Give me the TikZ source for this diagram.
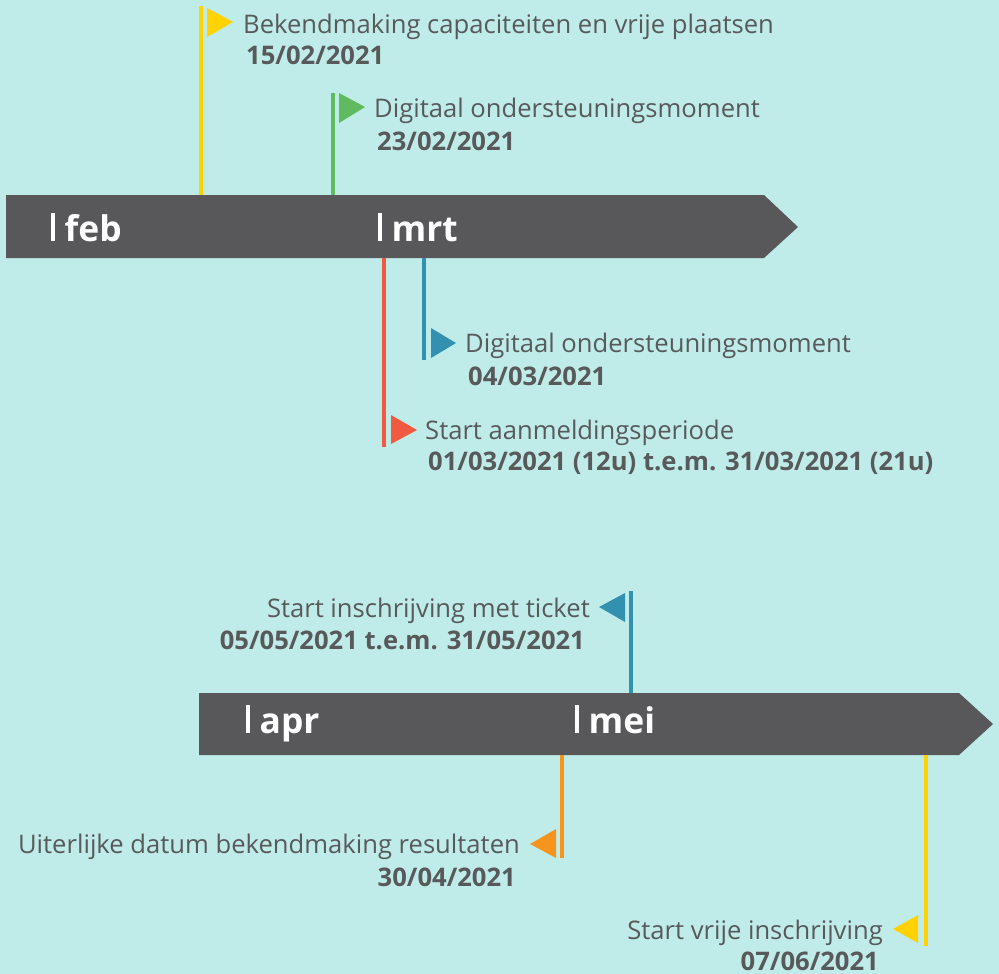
\documentclass[tikz,border=0pt]{standalone}
\usepackage{fontspec}
\setmainfont{Open Sans}
\usepackage{tikz}
\usetikzlibrary{positioning}

\definecolor{bg}{HTML}{BFECE8}
\definecolor{bargray}{HTML}{58585A}
\definecolor{txtgray}{HTML}{58595B}
\definecolor{flagyellow}{HTML}{FFD200}
\definecolor{flaggreen}{HTML}{60BA60}
\definecolor{flagred}{HTML}{F15A40}
\definecolor{flagblue}{HTML}{3290B0}
\definecolor{flagorange}{HTML}{F7941D}

\newcommand{\monthbar}{\rule{3.5bp}{28bp}\hspace{10bp}}

\tikzset{
  pole/.style={line width=3.5bp},
  eventtext/.style={text=txtgray, inner sep=0pt, font=\fontsize{25.7}{30}\selectfont},
  datetext/.style={text=txtgray, inner sep=0pt, font=\fontsize{25.7}{30}\selectfont\bfseries},
  monthtext/.style={text=white, inner sep=0pt, anchor=base west, font=\fontsize{35.5}{40}\selectfont\bfseries}
}

\begin{document}
\begin{tikzpicture}[x=1bp,y=-1bp]

        \fill[bg] (0,0) rectangle (999,974);
        \useasboundingbox (0,0) rectangle (999,974);

        % eerste balk
        \fill[bargray] (6,195) -- (764,195) -- (798,227) -- (764,258) -- (6,258) -- cycle;
        \node[monthtext] (feb) at(51,241) {\monthbar feb};
        \node[monthtext] (mrt) at(378,241) {\monthbar mrt};

        % 15/02
        \coordinate (bekendB) at(201,195);
        \coordinate (bekendT) at(201,6);
        \draw[pole, flagyellow] (bekendB) -- (bekendT);
        \fill[flagyellow] (207,8) -- (233,22) -- (207,37) -- cycle;
        \node[eventtext, anchor=base west] (bekend) at(243,33) {Bekendmaking capaciteiten en vrije plaatsen};
        \node[datetext, anchor=base west] (bekenddate) at(246,64) {15/02/2021};

        % 23/02
        \coordinate (digi1B) at(333,195);
        \coordinate (digi1T) at(333,93);
        \draw[pole, flaggreen] (digi1B) -- (digi1T);
        \fill[flaggreen] (339,93) -- (365,107) -- (339,123) -- cycle;
        \node[eventtext, anchor=base west] (digi1) at(374,117) {Digitaal ondersteuningsmoment};
        \node[datetext, anchor=base west] (digi1date) at(377,150) {23/02/2021};

        % 01/03
        \coordinate (aanmT) at(384,258);
        \coordinate (aanmB) at(384,447);
        \draw[pole, flagred] (aanmT) -- (aanmB);
        \fill[flagred] (391,415) -- (417,430) -- (391,444) -- cycle;
        \node[eventtext, anchor=base west] (aanm) at(425,439) {Start aanmeldingsperiode};
        \node[datetext, anchor=base west] (aanmdate) at(428,470) {01/03/2021 (12u) t.e.m. 31/03/2021 (21u)};

        % 04/03
        \coordinate (digi2T) at(424,258);
        \coordinate (digi2B) at(424,360);
        \draw[pole, flagblue] (digi2T) -- (digi2B);
        \fill[flagblue] (431,328) -- (456,343) -- (431,358) -- cycle;
        \node[eventtext, anchor=base west] (digi2) at(465,352) {Digitaal ondersteuningsmoment};
        \node[datetext, anchor=base west] (digi2date) at(468,385) {04/03/2021};

        % tweede balk
        \fill[bargray] (199,693) -- (959,693) -- (993,724) -- (959,755) -- (199,755) -- cycle;
        \node[monthtext] (apr) at(246,733) {\monthbar apr};
        \node[monthtext] (mei) at(575,733) {\monthbar mei};

        % 05/05
        \coordinate (ticketB) at(631,693);
        \coordinate (ticketT) at(631,591);
        \draw[pole, flagblue] (ticketB) -- (ticketT);
        \fill[flagblue] (625,593) -- (599,607) -- (625,622) -- cycle;
        \node[eventtext, anchor=base east] (ticket) at(590,617) {Start inschrijving met ticket};
        \node[datetext, anchor=base east] (ticketdate) at(585,649) {05/05/2021 t.e.m. 31/05/2021};

        % 30/04
        \coordinate (resT) at(562,755);
        \coordinate (resB) at(562,858);
        \draw[pole, flagorange] (resT) -- (resB);
        \fill[flagorange] (556,829) -- (530,844) -- (556,858) -- cycle;
        \node[eventtext, anchor=base east] (res) at(520,853) {Uiterlijke datum bekendmaking resultaten};
        \node[datetext, anchor=base east] (resdate) at(516,886) {30/04/2021};

        % 07/06
        \coordinate (vrijT) at(926,755);
        \coordinate (vrijB) at(926,946);
        \draw[pole, flagyellow] (vrijT) -- (vrijB);
        \fill[flagyellow] (918,915) -- (893,929) -- (918,943) -- cycle;
        \node[eventtext, anchor=base east] (vrij) at(883,939) {Start vrije inschrijving};
        \node[datetext, anchor=base east] (vrijdate) at(879,970) {07/06/2021};

\end{tikzpicture}
\end{document}
